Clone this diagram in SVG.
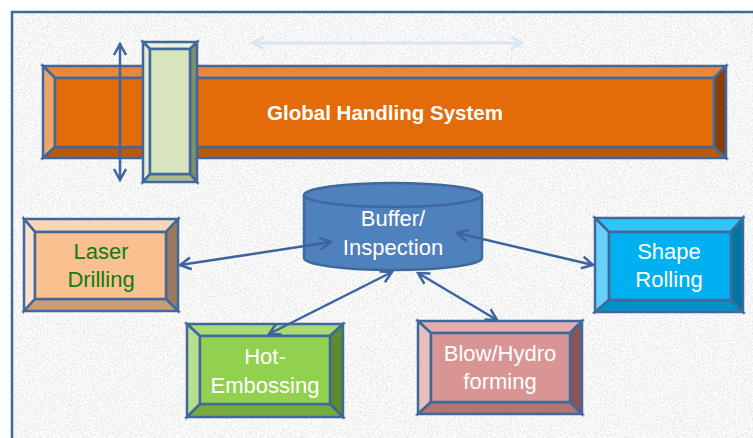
<svg xmlns="http://www.w3.org/2000/svg" width="753" height="438" viewBox="0 0 753 438">
  <defs>
    <filter id="grain" x="0" y="0" width="100%" height="100%" filterUnits="objectBoundingBox">
      <feTurbulence type="fractalNoise" baseFrequency="0.55" numOctaves="3" seed="7" result="n"/>
      <feColorMatrix in="n" type="matrix" values="0.33 0.33 0.33 0 0  0.33 0.33 0.33 0 0  0.33 0.33 0.33 0 0  0 0 0 0 1" result="g"/>
      <feComponentTransfer in="g">
        <feFuncR type="linear" slope="0.75" intercept="0.55"/>
        <feFuncG type="linear" slope="0.75" intercept="0.55"/>
        <feFuncB type="linear" slope="0.75" intercept="0.55"/>
      </feComponentTransfer>
    </filter>
    <marker id="head" viewBox="-14 -8 16 16" refX="0" refY="0" markerWidth="16" markerHeight="16" markerUnits="userSpaceOnUse" orient="auto-start-reverse">
      <path d="M-11,-6 L0,0 L-11,6" fill="none" stroke="#3B64A0" stroke-width="2.5" stroke-linejoin="miter"/>
    </marker>
    <marker id="headLight" viewBox="-14 -8 16 16" refX="0" refY="0" markerWidth="16" markerHeight="16" markerUnits="userSpaceOnUse" orient="auto-start-reverse">
      <path d="M-11,-6 L0,0 L-11,6" fill="none" stroke="#DCE6F2" stroke-width="3"/>
    </marker>
    <style>
      .edge { stroke: #41689C; stroke-width: 2.5; stroke-linejoin: miter; }
      .conn { fill: none; stroke: #3B64A0; stroke-width: 2.5; marker-start: url(#head); marker-end: url(#head); }
      .label { font-family: "Liberation Sans", Arial, sans-serif; font-size: 22px; text-anchor: middle; fill: #FFFFFF; }
      .title { font-family: "Liberation Sans", Arial, sans-serif; font-size: 20.5px; font-weight: bold; text-anchor: middle; fill: #FFFFFF; }
    </style>
  </defs>

  <!-- page and textured panel -->
  <rect x="0" y="0" width="753" height="438" fill="#FFFFFF"/>
  <rect x="12" y="12" width="760" height="450" fill="#EBEBEB" filter="url(#grain)"/>
  <rect x="12" y="12" width="760" height="450" fill="none" stroke="#41689C" stroke-width="2.5"/>

  <!-- travel indicator of the gantry -->
  <line x1="253" y1="43" x2="522" y2="43" stroke="#DCE6F2" stroke-width="3" marker-start="url(#headLight)" marker-end="url(#headLight)"/>

  <!-- Global Handling System rail -->
  <g id="global-handling">
    <polygon class="edge" points="43,66 726,66 714,78 55,78" fill="#E8873A"/>
    <polygon class="edge" points="43,66 55,78 55,147 43,158" fill="#EFA46A"/>
    <polygon class="edge" points="726,66 726,158 714,147 714,78" fill="#8A3E06"/>
    <polygon class="edge" points="43,158 55,147 714,147 726,158" fill="#B85A0A"/>
    <rect class="edge" x="55" y="78" width="659" height="69" fill="#E36C0A"/>
    <text class="title" x="385" y="120">Global Handling System</text>
  </g>

  <!-- vertical motion of the carriage -->
  <g id="connectors-lift">
    <line class="conn" x1="120" y1="44" x2="120" y2="180"/>
  </g>

  <!-- carriage -->
  <g id="carriage">
    <polygon class="edge" points="143,42 197,42 190,49 150,49" fill="#EBF1DE"/>
    <polygon class="edge" points="143,42 150,49 150,174 143,182" fill="#E4EDD3"/>
    <polygon class="edge" points="197,42 197,182 190,174 190,49" fill="#7F8F68"/>
    <polygon class="edge" points="143,182 150,174 190,174 197,182" fill="#AAB98E"/>
    <rect class="edge" x="150" y="49" width="40" height="125" fill="#D7E4BD"/>
  </g>

  <!-- Buffer / Inspection -->
  <g id="buffer">
    <path class="edge" d="M304,195 L304,258 A89,12 0 0 0 482,258 L482,195" fill="#4F81BD"/>
    <ellipse class="edge" cx="393" cy="195" rx="89" ry="12" fill="#4F81BD"/>
    <text class="label" x="393" y="226">Buffer/</text>
    <text class="label" x="393" y="255">Inspection</text>
  </g>

  <!-- Laser Drilling -->
  <g id="laser-drilling">
    <polygon class="edge" points="24,219 178,219 166,232 35,232" fill="#FCD5B4"/>
    <polygon class="edge" points="24,219 35,232 35,299 24,311" fill="#FDE2CB"/>
    <polygon class="edge" points="178,219 178,311 166,299 166,232" fill="#9E7A5C"/>
    <polygon class="edge" points="24,311 35,299 166,299 178,311" fill="#CB9D74"/>
    <rect class="edge" x="35" y="232" width="131" height="67" fill="#FAC090"/>
    <text class="label" x="101" y="259" style="fill:#127A12">Laser</text>
    <text class="label" x="101" y="287" style="fill:#127A12">Drilling</text>
  </g>

  <!-- Shape Rolling -->
  <g id="shape-rolling">
    <polygon class="edge" points="595,218 743,218 731,232 609,232" fill="#33C3F4"/>
    <polygon class="edge" points="595,218 609,232 609,300 595,312" fill="#66D2F7"/>
    <polygon class="edge" points="743,218 743,312 731,300 731,232" fill="#0077A2"/>
    <polygon class="edge" points="595,312 609,300 731,300 743,312" fill="#0092C6"/>
    <rect class="edge" x="609" y="232" width="122" height="68" fill="#00B0F0"/>
    <text class="label" x="669" y="259">Shape</text>
    <text class="label" x="669" y="287">Rolling</text>
  </g>

  <!-- Hot-Embossing -->
  <g id="hot-embossing">
    <polygon class="edge" points="187,324 343,324 330,336 200,336" fill="#A9DA77"/>
    <polygon class="edge" points="187,324 200,336 200,404 187,417" fill="#B6E08C"/>
    <polygon class="edge" points="343,324 343,417 330,404 330,336" fill="#5E8B2E"/>
    <polygon class="edge" points="187,417 200,404 330,404 343,417" fill="#78AB3D"/>
    <rect class="edge" x="200" y="336" width="130" height="68" fill="#92D050"/>
    <text class="label" x="265" y="364">Hot-</text>
    <text class="label" x="265" y="393">Embossing</text>
  </g>

  <!-- Blow/Hydro forming -->
  <g id="blow-hydro-forming">
    <polygon class="edge" points="418,321 582,321 570,333 431,333" fill="#E3AEAD"/>
    <polygon class="edge" points="418,321 431,333 431,402 418,414" fill="#E9BFBE"/>
    <polygon class="edge" points="582,321 582,414 570,402 570,333" fill="#8A5554"/>
    <polygon class="edge" points="418,414 431,402 570,402 582,414" fill="#B37473"/>
    <rect class="edge" x="431" y="333" width="139" height="69" fill="#D99594"/>
    <text class="label" x="500" y="361">Blow/Hydro</text>
    <text class="label" x="500" y="389">forming</text>
  </g>

  <!-- connectors between stations and the buffer, drawn on top -->
  <g id="connectors">
    <line class="conn" x1="180" y1="265" x2="331" y2="242"/>
    <line class="conn" x1="457" y1="233" x2="593" y2="265"/>
    <line class="conn" x1="269" y1="334" x2="392" y2="272"/>
    <line class="conn" x1="418" y1="273" x2="497" y2="320"/>
  </g>
</svg>
